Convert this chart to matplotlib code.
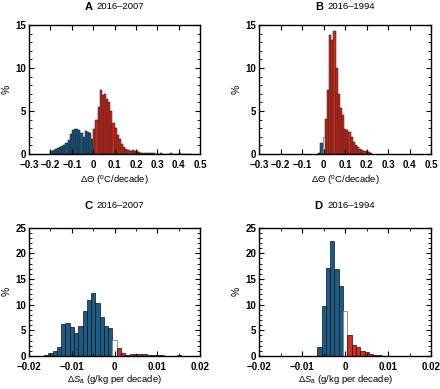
import numpy as np
import matplotlib
matplotlib.use("Agg")
import matplotlib.pyplot as plt
from matplotlib.ticker import MultipleLocator

plt.rcParams['font.family'] = ['Liberation Sans', 'DejaVu Sans']
plt.rcParams['mathtext.fontset'] = 'custom'
plt.rcParams['mathtext.rm'] = 'Liberation Sans'
plt.rcParams['mathtext.it'] = 'Liberation Sans:italic'

BLUE = '#1c5b84'
RED = '#d42a1f'

# Panel A: 2016-2007 temperature trend, bin width 0.01 (left edges)
a_blue_left = np.round(np.arange(-0.20, 0.0, 0.01), 3)
a_blue = [0.4, 0.5, 0.6, 0.7, 0.8, 0.9, 1.1, 1.3, 1.6, 2.3,
          2.8, 2.9, 2.9, 2.8, 2.5, 2.0, 2.7, 2.6, 2.5, 1.8]
a_red_left = np.round(np.arange(0.0, 0.46, 0.01), 3)
a_red = [2.9, 3.9, 5.5, 7.4, 6.9, 7.0, 6.4, 6.1, 5.0, 3.6,
         3.0, 2.2, 1.7, 1.2, 0.8, 0.6, 0.5, 0.4, 0.5, 0.3,
         0.3, 0.2, 0.1, 0.1, 0.1, 0.15, 0.1, 0.15, 0.1, 0.05,
         0.05, 0.1, 0.05, 0.05, 0.05, 0.05, 0.1, 0.05, 0.05, 0.05,
         0.1, 0.05, 0.05, 0.05, 0.05, 0.05]

# Panel B: 2016-1994 temperature trend, bins centred on multiples of 0.01
b_blue_c = [-0.02, -0.01]
b_blue = [0.1, 1.3]
b_zero = 2.0
b_red_c = np.round(np.arange(0.01, 0.23, 0.01), 3)
b_red = [4.1, 7.4, 13.8, 13.3, 14.3, 10.0, 7.0, 5.3, 4.5, 2.9,
         2.8, 2.6, 2.0, 1.4, 1.0, 0.8, 0.6, 0.5, 0.4, 0.3, 0.2, 0.1]

# Panel C: 2016-2007 salinity trend, bins centred on multiples of 0.001
c_blue_c = np.round(np.arange(-0.016, 0.0, 0.001), 4)
c_blue = [0.1, 0.6, 1.0, 1.8, 6.3, 6.4, 5.6, 4.5, 5.8, 8.7,
          10.9, 12.3, 10.3, 7.5, 5.8, 5.4]
c_zero = 3.1
c_red_c = np.round(np.arange(0.001, 0.016, 0.001), 4)
c_red = [1.6, 0.5, 0.2, 0.3, 0.4, 0.3, 0.3, 0.2, 0.2, 0.1,
         0.1, 0.05, 0.05, 0.05, 0.1]

# Panel D: 2016-1994 salinity trend
d_blue_c = np.round(np.arange(-0.006, 0.0, 0.001), 4)
d_blue = [1.8, 9.8, 17.1, 22.3, 16.9, 13.7]
d_zero = 8.8
d_red_c = np.round(np.arange(0.001, 0.009, 0.001), 4)
d_red = [4.0, 2.1, 1.7, 1.0, 0.7, 0.4, 0.2, 0.1]

fig = plt.figure(figsize=(4.4, 3.89), dpi=100)
axA = fig.add_axes([0.066, 0.604, 0.389, 0.332])
axB = fig.add_axes([0.589, 0.604, 0.391, 0.332])
axC = fig.add_axes([0.066, 0.085, 0.389, 0.330])
axD = fig.add_axes([0.589, 0.085, 0.391, 0.330])

bar_kw = dict(edgecolor='#1a1a1a', linewidth=0.35)

axA.bar(a_blue_left, a_blue, width=0.01, align='edge', color=BLUE, **bar_kw)
axA.bar(a_red_left, a_red, width=0.01, align='edge', color=RED, **bar_kw)

axB.bar(b_blue_c, b_blue, width=0.01, color=BLUE, **bar_kw)
axB.bar([0.0], [b_zero], width=0.01, color='white', edgecolor='#888888', linewidth=0.6)
axB.bar(b_red_c, b_red, width=0.01, color=RED, **bar_kw)

axC.bar(c_blue_c, c_blue, width=0.001, color=BLUE, edgecolor='#111111', linewidth=0.5)
axC.bar([0.0], [c_zero], width=0.001, color='white', edgecolor='#888888', linewidth=0.6)
axC.bar(c_red_c, c_red, width=0.001, color=RED, edgecolor='#111111', linewidth=0.5)

axD.bar(d_blue_c, d_blue, width=0.001, color=BLUE, edgecolor='#111111', linewidth=0.5)
axD.bar([0.0], [d_zero], width=0.001, color='white', edgecolor='#888888', linewidth=0.6)
axD.bar(d_red_c, d_red, width=0.001, color=RED, edgecolor='#111111', linewidth=0.5)

theta_label = r'$\Delta\Theta$ ($^{\rm o}$C/decade)'
sal_label = r'$\Delta S_{\rm a}$ (g/kg per decade)'

for ax in (axA, axB):
    ax.set_xlim(-0.3, 0.5)
    ax.set_ylim(0, 15)
    ax.set_xticks(np.round(np.arange(-0.3, 0.51, 0.1), 1))
    ax.set_xticklabels(['\u22120.3', '\u22120.2', '\u22120.1', '0', '0.1',
                        '0.2', '0.3', '0.4', '0.5'])
    ax.set_yticks([0, 5, 10, 15])
    ax.yaxis.set_minor_locator(MultipleLocator(1))
    ax.set_xlabel(theta_label, fontsize=6.8, labelpad=2.5)

for ax in (axC, axD):
    ax.set_xlim(-0.02, 0.02)
    ax.set_ylim(0, 25)
    ax.set_xticks([-0.02, -0.01, 0, 0.01, 0.02])
    ax.set_xticklabels(['\u22120.02', '\u22120.01', '0', '0.01', '0.02'])
    ax.set_yticks([0, 5, 10, 15, 20, 25])
    ax.yaxis.set_minor_locator(MultipleLocator(1))
    ax.xaxis.set_minor_locator(MultipleLocator(0.005))
    ax.set_xlabel(sal_label, fontsize=6.8, labelpad=1.0)

for ax in (axA, axB, axC, axD):
    ax.tick_params(which='both', direction='in', top=True, right=True,
                   labelsize=7, width=0.8)
    ax.tick_params(axis='x', pad=4.2)
    ax.tick_params(axis='y', pad=2)
    ax.tick_params(which='major', length=3.5)
    ax.tick_params(which='minor', length=2, width=0.6)
    for lbl in ax.get_xticklabels() + ax.get_yticklabels():
        lbl.set_fontweight('bold')
    for sp in ax.spines.values():
        sp.set_linewidth(1.0)
    ax.set_ylabel('%', fontsize=7.5, labelpad=3)

titles = [(axA, 'A', '2016\u20132007', 1.14), (axB, 'B', '2016\u20131994', 1.14),
          (axC, 'C', '2016\u20132007', 1.17), (axD, 'D', '2016\u20131994', 1.17)]
for ax, letter, years, ty in titles:
    ax.text(0.37, ty, letter, transform=ax.transAxes, ha='right',
            va='center', fontsize=8, fontweight='bold')
    ax.text(0.395, ty, years, transform=ax.transAxes, ha='left',
            va='center', fontsize=6.8)

fig.savefig('out.png', dpi=100)
